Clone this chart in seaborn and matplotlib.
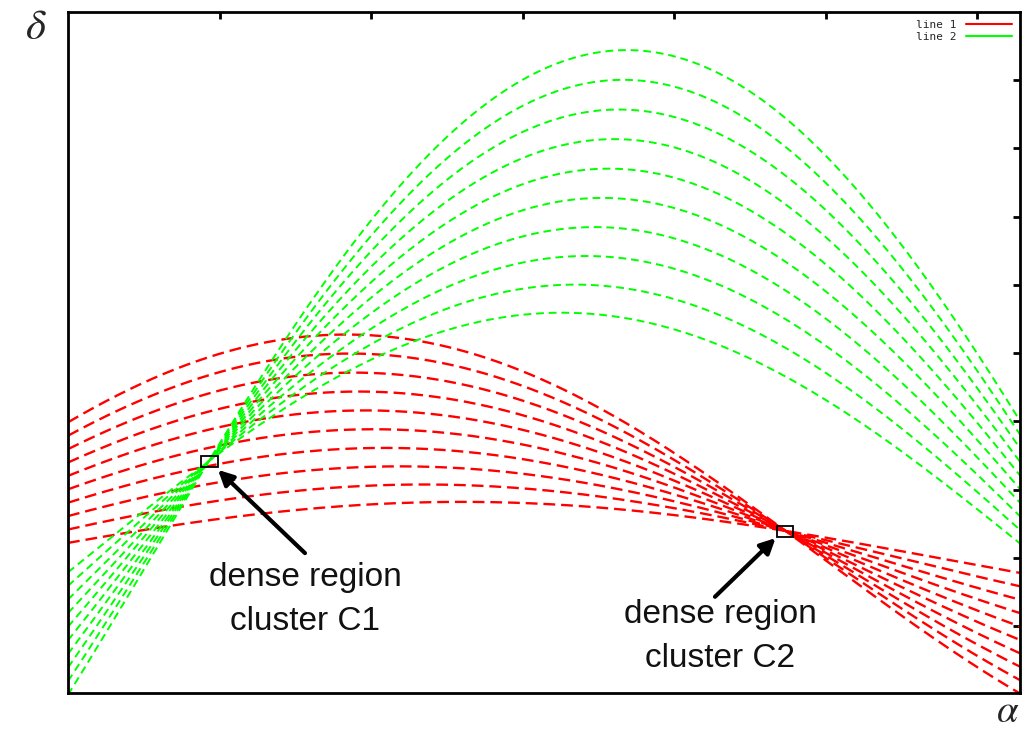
import numpy as np
import pandas as pd
import matplotlib
matplotlib.use("Agg")
import matplotlib.pyplot as plt
import seaborn as sns
from matplotlib.lines import Line2D
from matplotlib.patches import Rectangle

# ---- data -----------------------------------------------------------------
# Image points of the two straight lines; each point gives one curve
# delta = x*cos(alpha) + y*sin(alpha)  (Hough transform)
line1_x = [0.220, 0.416, 0.613, 0.809, 1.005, 1.202, 1.398, 1.594, 1.791, 1.987]
line1_y = [0.791, 0.992, 1.193, 1.394, 1.595, 1.796, 1.997, 2.198, 2.400, 2.601]
line2_x = [-0.211, -0.410, -0.610, -0.809, -1.009, -1.208, -1.408, -1.607, -1.807, -2.007]
line2_y = [3.587, 3.984, 4.382, 4.780, 5.178, 5.575, 5.973, 6.371, 6.769, 7.166]
series_names = ["line 1", "line 2"]
series_colors = ["#ff0000", "#00ff00"]

cluster_labels = ["dense region\ncluster C1", "dense region\ncluster C2"]
cluster_alpha = [0.467, 2.366]
cluster_delta = [1.413, 0.387]
# ---------------------------------------------------------------------------

alpha = np.linspace(0, np.pi, 700)
rows = []
for name, xs, ys in [(series_names[0], line1_x, line1_y),
                     (series_names[1], line2_x, line2_y)]:
    for i, (px, py) in enumerate(zip(xs, ys)):
        d = px * np.cos(alpha) + py * np.sin(alpha)
        rows.append(pd.DataFrame({"alpha": alpha, "delta": d,
                                  "curve": f"{name}-{i}", "series": name}))
df = pd.concat(rows, ignore_index=True)

sns.set_style("white")
plt.rcParams["mathtext.fontset"] = "stix"
plt.rcParams["font.family"] = ["Liberation Sans", "DejaVu Sans"]

fig = plt.figure(figsize=(10.30, 7.31), dpi=100)
ax = fig.add_axes([68 / 1030, 38 / 731, 952 / 1030, 681 / 731])

for name, col, lw, dash in [(series_names[0], series_colors[0], 1.7, (5, 2.5)),
                            (series_names[1], series_colors[1], 1.4, (4, 2.5))]:
    sub = df[df["series"] == name]
    sns.lineplot(data=sub, x="alpha", y="delta", units="curve", estimator=None,
                 color=col, lw=lw, dashes=False, ax=ax, legend=False,
                 linestyle=(0, dash), sort=False)

ax.set_xlim(0, np.pi)
ax.set_ylim(-1.98, 8.0)
ax.set_xticks([0.5, 1.0, 1.5, 2.0, 2.5, 3.0])
ax.set_yticks([-1, 0, 1, 2, 3, 4, 5, 6, 7])
ax.tick_params(direction="in", length=5, width=2, top=True, right=True,
               labelbottom=False, labelleft=False, color="black")
for s in ax.spines.values():
    s.set_linewidth(2)
    s.set_color("black")
ax.set_xlabel("")
ax.set_ylabel("")

# boxes around dense regions
bw, bh = 0.055, 0.16
for a, d in zip(cluster_alpha, cluster_delta):
    ax.add_patch(Rectangle((a - bw / 2, d - bh / 2), bw, bh, fill=False,
                           edgecolor="black", lw=1.3, zorder=5))

# arrows and labels
arrow_kw = dict(arrowstyle="-|>,head_length=0.9,head_width=0.45", lw=3,
                color="black", shrinkA=0, shrinkB=0)
ax.annotate("", xy=(0.495, 1.29), xytext=(0.782, 0.07),
            arrowprops=arrow_kw, zorder=6)
ax.annotate("", xy=(2.335, 0.29), xytext=(2.135, -0.57),
            arrowprops=arrow_kw, zorder=6)
ax.text(0.782, -0.06, cluster_labels[0], ha="center", va="top",
        fontsize=24, linespacing=1.55, color="#111111")
ax.text(2.152, -0.60, cluster_labels[1], ha="center", va="top",
        fontsize=24, linespacing=1.55, color="#111111")

# legend
handles = [Line2D([0], [0], color=c, lw=1.5) for c in series_colors]
ax.legend(handles, series_names, loc="upper right", frameon=False,
          markerfirst=False, handlelength=4.2, handletextpad=0.8,
          labelspacing=0.2, borderaxespad=0.3,
          prop={"family": "DejaVu Sans Mono", "size": 8})

# axis symbols
fig.text(36 / 1030, 1 - 28 / 731, r"$\delta$", fontsize=31, ha="center", va="center")
fig.text(1008 / 1030, 1 - 712 / 731, r"$\alpha$", fontsize=28, ha="center", va="center")

fig.savefig("out.png", dpi=100)
